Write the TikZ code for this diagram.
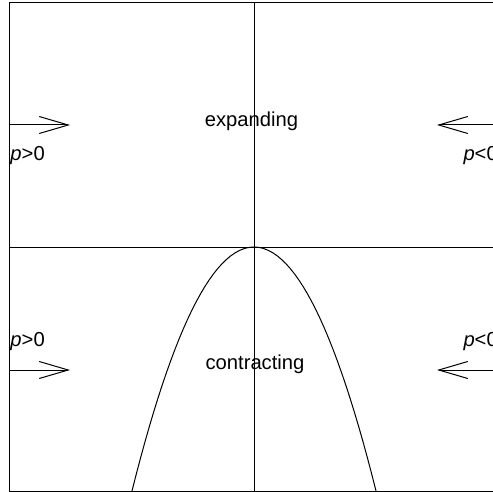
\documentclass[tikz,border=0pt]{standalone}
\usepackage{fontspec}
\setmainfont{Liberation Sans}
\usetikzlibrary{arrows.meta}
\tikzset{
  flow/.style={-{Straight Barb[length=14.5pt,width=8.5pt]},line width=0.5pt},
  sign/.style={anchor=base west,inner sep=0pt},
  phase/.style={anchor=base,inner sep=0pt}
}
\begin{document}
\begin{tikzpicture}[x=0.5pt,y=-0.5pt,line width=0.5pt,font=\fontsize{10.1}{12}\selectfont]
\useasboundingbox (0,0) rectangle (493,492);
\clip (0,0) rectangle (493,492);
% frame and axes
\coordinate (nw) at (9,3);
\coordinate (se) at (499,491);
\coordinate (top) at (254,3);
\coordinate (bot) at (254,491);
\coordinate (lft) at (9,247);
\coordinate (rgt) at (499,247);
\draw (nw) rectangle (se);
\draw (top) -- (bot);
\draw (lft) -- (rgt);
% parabola through the origin of the phase plane
\draw plot[domain=128:380,samples=60] (\x,{247+0.01639*(\x-254)*(\x-254)});
% flow arrows
\coordinate (a1) at (9,125);   \coordinate (b1) at (70,125);
\coordinate (a2) at (499,125); \coordinate (b2) at (437,125);
\coordinate (a3) at (9,370);   \coordinate (b3) at (70,370);
\coordinate (a4) at (499,370); \coordinate (b4) at (437,370);
\draw[flow] (a1) -- (b1);
\draw[flow] (a2) -- (b2);
\draw[flow] (a3) -- (b3);
\draw[flow] (a4) -- (b4);
% labels
\node[sign] (pl1) at (10,161) {\textit{p}>0};
\node[sign] (pr1) at (463,161) {\textit{p}<0};
\node[sign] (pl2) at (10,346) {\textit{p}>0};
\node[sign] (pr2) at (463,346) {\textit{p}<0};
\node[phase] (exp) at (251.5,127) {expanding};
\node[phase] (con) at (255,369) {contracting};
\end{tikzpicture}
\end{document}
